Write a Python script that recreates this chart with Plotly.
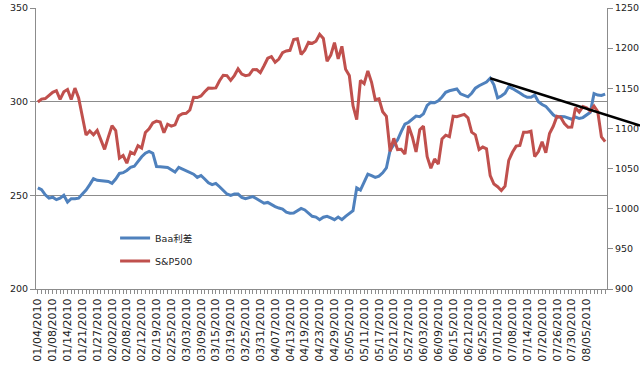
import pandas as pd
import plotly.graph_objects as go

# ---- categories: US trading days 2010-01-04 .. 2010-08-12 ----
HOLIDAYS = ["2010-01-18", "2010-02-15", "2010-04-02", "2010-05-31", "2010-07-05"]
_days = pd.bdate_range("2010-01-04", "2010-08-12")
DATES = [d.strftime("%m/%d/%Y") for d in _days if d.strftime("%Y-%m-%d") not in HOLIDAYS]

TICK_LABELS = ["01/04/2010", "01/08/2010", "01/14/2010", "01/21/2010", "01/27/2010",
               "02/02/2010", "02/08/2010", "02/12/2010", "02/19/2010", "02/25/2010",
               "03/03/2010", "03/09/2010", "03/15/2010", "03/19/2010", "03/25/2010",
               "03/31/2010", "04/07/2010", "04/13/2010", "04/19/2010", "04/23/2010",
               "04/29/2010", "05/05/2010", "05/11/2010", "05/17/2010", "05/21/2010",
               "05/27/2010", "06/03/2010", "06/09/2010", "06/15/2010", "06/21/2010",
               "06/25/2010", "07/01/2010", "07/08/2010", "07/14/2010", "07/20/2010",
               "07/26/2010", "07/30/2010", "08/05/2010"]

# ---- series ----
BAA_SPREAD = [
    254, 253, 250.3, 248.5, 249, 247.7, 248.5, 250, 246.4, 248.2,
    248.2, 248.5, 250.7, 252.8, 255.7, 258.9, 258, 257.8, 257.8, 257.4,
    256.4, 258.7, 261.7, 262.1, 263.3, 264.9, 265.5, 268.1, 270.6, 272.5,
    273.5, 272.5, 265.4, 265.3, 265.3, 264.9, 263.7, 262.4, 264.9, 264,
    263.3, 262.4, 261.3, 259.6, 260.6, 258.7, 256.7, 255.7, 256.4, 254.6,
    252.8, 250.7, 250.0, 250.7, 250.7, 248.9, 248.2, 248.9, 249.3, 248.2,
    246.8, 245.8, 246.2, 245.0, 244.0, 243.2, 242.7, 241.0, 240.5, 240.6,
    241.8, 243.0, 242.2, 240.5, 238.8, 238.4, 237.0, 238.3, 238.8, 238.0,
    237.0, 238.4, 237.0, 238.8, 240.5, 241.8, 254.0, 252.8, 257.0, 261.3,
    260.5, 259.6, 260.2, 262.0, 264.6, 274, 277, 279.5, 284, 288,
    289, 290.5, 292.3, 292, 293.5, 298, 299.6, 299.4, 300.5, 302.5,
    305.0, 305.8, 306.3, 306.8, 304.2, 303.3, 302.6, 304.5, 307.2, 308.5,
    309.5, 310.5, 312.5, 309, 302, 303, 304.5, 308, 307, 306,
    304.6, 303.3, 302.3, 302.3, 303.5, 300, 298.5, 297.5, 295.5, 293,
    291.6, 292.1, 292, 291.2, 290.6, 291.8, 291, 291.5, 293, 294.3,
    304.3, 303.5, 303.3, 304,
]

SP500 = [
    1132.99, 1136.52, 1137.14, 1141.69, 1144.98, 1146.98, 1136.22, 1145.68, 1148.46, 1136.03,
    1150.23, 1138.04, 1116.48, 1091.76, 1096.78, 1092.17, 1097.50, 1084.53, 1073.87,
    1089.19, 1103.32, 1097.28, 1063.11, 1066.19, 1056.74, 1070.52, 1068.13, 1078.47, 1075.51,
    1094.87, 1099.51, 1106.75, 1109.17, 1108.01, 1094.60, 1105.24, 1102.94, 1104.49,
    1115.71, 1118.31, 1118.79, 1122.97, 1138.70, 1138.50, 1140.45, 1145.61, 1150.24, 1149.99,
    1150.51, 1159.46, 1166.21, 1165.83, 1159.90, 1165.81, 1174.17, 1167.72, 1165.73, 1166.59,
    1173.22, 1173.27, 1169.43,
    1178.10, 1187.44, 1189.44, 1182.45, 1186.44, 1194.37, 1196.48, 1197.30, 1210.65, 1211.67,
    1192.13, 1197.52, 1207.17, 1205.94, 1208.67, 1217.28, 1212.05, 1183.71, 1191.36, 1206.78,
    1186.69,
    1202.26, 1173.60, 1165.87, 1128.15, 1110.88, 1159.73, 1155.79, 1171.67, 1157.44, 1135.68,
    1136.94, 1120.80, 1115.05, 1071.59, 1087.69, 1073.65, 1074.03, 1067.95, 1103.06, 1089.41,
    1070.71, 1098.38, 1102.83, 1064.88, 1050.47, 1062.00, 1055.69, 1086.84, 1091.60, 1089.63,
    1115.23, 1114.61, 1116.04, 1117.51, 1113.20, 1095.31, 1092.04, 1073.69, 1076.76, 1074.57,
    1041.24, 1030.71,
    1027.37, 1022.58, 1028.06, 1060.27, 1070.25, 1077.96, 1078.75, 1095.34, 1095.17, 1096.48,
    1064.88, 1071.25, 1083.48, 1069.59, 1093.67, 1102.66, 1115.01, 1113.84, 1106.13, 1101.53,
    1101.60,
    1125.86, 1120.46, 1127.24, 1125.81, 1121.64, 1127.79, 1121.06, 1089.47, 1083.61,
]

# trend line: from the spread's peak down to a point beyond the right edge (data units)
TREND_END_INDEX = 162.4
TREND_END_VALUE = 287.2

LEFT_RANGE = [200, 350]
RIGHT_RANGE = [900, 1250]

BLUE = "#4F81BD"
RED = "#C0504D"
GRID = "#8C8C8C"
FONT = "DejaVu Sans, Noto Sans CJK SC, sans-serif"

n = len(DATES)
ticktext = [d if d in TICK_LABELS else "" for d in DATES]

fig = go.Figure()
fig.add_trace(go.Scatter(x=DATES, y=BAA_SPREAD, name="Baa利差", mode="lines",
                         line=dict(color=BLUE, width=3), legend="legend"))
fig.add_trace(go.Scatter(x=DATES, y=SP500, name="S&P500", mode="lines", yaxis="y2",
                         line=dict(color=RED, width=3), legend="legend2"))

# trend line converted to paper coords through the axis ranges
peak_i = max(range(n), key=lambda i: BAA_SPREAD[i])
def px(idx):
    return (idx + 0.5) / n
def py(v):
    return (v - LEFT_RANGE[0]) / (LEFT_RANGE[1] - LEFT_RANGE[0])
fig.add_shape(type="line", xref="paper", yref="paper",
              x0=px(peak_i), y0=py(BAA_SPREAD[peak_i]),
              x1=px(TREND_END_INDEX), y1=py(TREND_END_VALUE),
              line=dict(color="black", width=2.5), layer="above")

fig.update_layout(
    width=640, height=365,
    margin=dict(l=36, r=33, t=8, b=76, autoexpand=False),
    paper_bgcolor="white", plot_bgcolor="white",
    font=dict(family=FONT, size=10, color="#222"),
    showlegend=True,
    legend=dict(x=0.1385, y=0.1815, xanchor="left", yanchor="middle",
                bgcolor="rgba(0,0,0,0)", font=dict(size=9.5, color="#222"),
                itemwidth=30),
    legend2=dict(x=0.1385, y=0.0996, xanchor="left", yanchor="middle",
                 bgcolor="rgba(0,0,0,0)", font=dict(size=9.5, color="#222"),
                 itemwidth=30),
    xaxis=dict(type="category", range=[-0.5, n - 0.5], automargin=False,
               tickmode="array", tickvals=DATES, ticktext=ticktext,
               tickangle=-90, tickfont=dict(size=11, color="#222"),
               ticks="outside", ticklen=4, tickcolor=GRID,
               showline=True, linecolor=GRID, linewidth=1,
               showgrid=False, zeroline=False),
    yaxis=dict(range=LEFT_RANGE, dtick=50, tick0=200, automargin=False,
               tickfont=dict(size=9.5, color="#222"),
               ticks="outside", ticklen=5, tickcolor=GRID,
               showline=True, linecolor=GRID, linewidth=1,
               showgrid=True, gridcolor=GRID, gridwidth=1, zeroline=False),
    yaxis2=dict(range=RIGHT_RANGE, dtick=50, tick0=900, overlaying="y", side="right",
                automargin=False,
                tickfont=dict(size=9.5, color="#222"),
                ticks="outside", ticklen=5, tickcolor=GRID,
                showline=True, linecolor=GRID, linewidth=1,
                showgrid=False, zeroline=False),
)

fig.write_html("out.html", config={"displayModeBar": False},
               post_script="document.body.style.margin='0';document.body.style.overflow='hidden';")
